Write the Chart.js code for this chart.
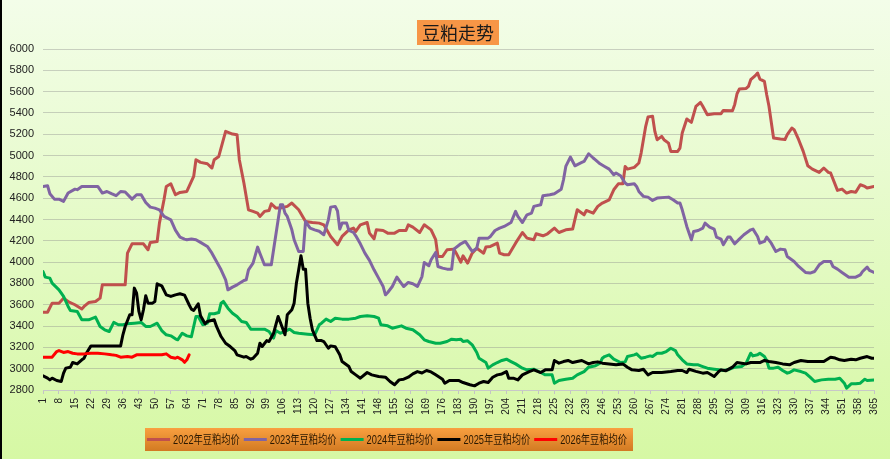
<!DOCTYPE html>
<html lang="zh">
<head>
  <meta charset="UTF-8">
  <title>豆粕走势</title>
  <style>
    html, body { margin: 0; padding: 0; background: #e6fbc8; }
    #chart { display: block; }
  </style>
</head>
<body>
  <canvas id="chart" width="890" height="459"></canvas>
  <script src="https://cdn.jsdelivr.net/npm/chart.js"></script>
  <script>
    // [day, price] pairs
    const y2022 = [[1,3530],[3,3530],[5,3615],[8,3615],[10,3662],[12,3630],[15,3600],[18,3560],[19,3584],[21,3621],[24,3630],[26,3662],[27,3787],[37,3787],[38,4084],[40,4172],[45,4172],[47,4116],[48,4185],[51,4194],[52,4366],[54,4585],[55,4710],[57,4735],[59,4632],[61,4654],[64,4663],[67,4804],[68,4961],[70,4936],[73,4923],[75,4883],[76,4961],[78,4992],[80,5149],[81,5227],[84,5202],[86,5196],[87,4961],[89,4742],[91,4491],[93,4476],[95,4460],[96,4429],[98,4476],[100,4485],[101,4548],[103,4507],[105,4507],[108,4523],[110,4554],[113,4491],[116,4382],[119,4372],[122,4366],[124,4350],[127,4241],[130,4163],[132,4241],[135,4303],[137,4319],[138,4288],[140,4350],[143,4372],[144,4272],[146,4219],[147,4303],[150,4297],[152,4272],[155,4272],[157,4297],[160,4297],[161,4350],[163,4328],[166,4278],[168,4350],[171,4303],[173,4210],[174,4053],[176,4053],[178,4116],[181,4122],[182,4084],[184,4000],[185,4059],[187,3991],[189,4084],[191,4131],[194,4084],[195,4141],[197,4147],[200,4178],[201,4084],[203,4069],[205,4069],[208,4178],[211,4278],[213,4225],[216,4210],[217,4266],[220,4247],[222,4266],[225,4319],[227,4278],[230,4303],[233,4310],[235,4491],[238,4444],[239,4485],[242,4460],[244,4523],[246,4554],[249,4585],[251,4679],[253,4735],[255,4735],[256,4898],[257,4873],[260,4889],[262,4930],[263,5023],[265,5274],[266,5361],[268,5368],[269,5227],[270,5149],[272,5180],[273,5149],[275,5117],[276,5039],[279,5039],[280,5070],[281,5211],[283,5343],[285,5311],[287,5462],[289,5499],[290,5462],[292,5383],[295,5393],[298,5393],[299,5424],[303,5420],[304,5480],[305,5580],[306,5624],[309,5630],[310,5649],[311,5712],[313,5750],[314,5775],[315,5718],[317,5696],[318,5571],[319,5462],[321,5164],[324,5155],[326,5150],[327,5196],[329,5258],[330,5243],[332,5149],[334,5039],[336,4904],[338,4873],[341,4842],[343,4883],[345,4842],[346,4836],[349,4673],[351,4685],[353,4648],[355,4663],[357,4655],[359,4726],[361,4710],[362,4695],[365,4710]];
    const y2023 = [[1,4710],[3,4717],[4,4642],[6,4591],[8,4591],[10,4570],[12,4648],[15,4685],[16,4680],[18,4710],[25,4710],[27,4648],[29,4663],[31,4642],[33,4623],[35,4663],[37,4658],[40,4591],[42,4632],[44,4632],[46,4560],[48,4516],[50,4507],[52,4491],[54,4429],[57,4397],[59,4300],[61,4235],[63,4216],[64,4210],[66,4216],[68,4210],[70,4185],[73,4147],[75,4084],[77,4006],[79,3928],[81,3834],[82,3740],[84,3765],[86,3787],[89,3828],[90,3834],[91,3928],[93,3991],[95,4141],[96,4084],[98,3975],[101,3975],[102,4116],[104,4397],[105,4538],[106,4538],[107,4460],[108,4429],[110,4303],[111,4210],[113,4100],[115,4100],[116,4382],[118,4319],[120,4303],[122,4290],[124,4257],[126,4397],[127,4516],[129,4523],[130,4480],[131,4310],[132,4366],[134,4366],[135,4297],[137,4278],[138,4247],[140,4172],[142,4084],[144,4016],[146,3928],[148,3850],[150,3771],[151,3693],[152,3715],[154,3771],[156,3859],[157,3828],[159,3771],[161,3809],[163,3797],[165,3771],[167,3865],[168,3997],[170,3966],[171,4022],[173,4091],[174,3959],[176,3944],[178,3934],[180,3934],[181,4122],[184,4172],[186,4194],[188,4131],[189,4100],[191,4131],[192,4225],[196,4225],[197,4241],[199,4297],[201,4319],[203,4335],[206,4372],[208,4476],[209,4429],[211,4372],[213,4444],[215,4460],[216,4523],[219,4538],[220,4623],[223,4632],[225,4642],[228,4685],[229,4773],[230,4898],[232,4986],[234,4904],[237,4936],[238,4945],[240,5017],[242,4977],[243,4960],[245,4923],[247,4898],[249,4873],[251,4820],[252,4836],[254,4811],[256,4742],[257,4726],[260,4735],[261,4710],[262,4663],[264,4617],[266,4610],[268,4579],[270,4601],[275,4610],[277,4585],[279,4554],[280,4554],[281,4491],[283,4335],[285,4210],[286,4288],[288,4297],[290,4319],[291,4366],[293,4328],[295,4310],[296,4235],[298,4216],[299,4163],[301,4235],[302,4235],[304,4172],[306,4216],[308,4257],[311,4303],[312,4310],[314,4241],[315,4178],[317,4194],[318,4235],[320,4178],[322,4100],[324,4122],[326,4116],[327,4053],[330,4006],[332,3959],[335,3903],[337,3897],[339,3912],[341,3975],[343,4006],[346,4006],[347,3959],[349,3934],[351,3903],[354,3859],[357,3859],[359,3881],[360,3912],[362,3953],[363,3922],[365,3903]];
    const y2024 = [[1,3912],[2,3859],[4,3850],[5,3803],[8,3740],[10,3678],[12,3584],[13,3546],[16,3537],[18,3459],[21,3459],[24,3484],[26,3396],[28,3365],[30,3349],[32,3434],[34,3412],[36,3412],[38,3421],[41,3427],[44,3434],[46,3396],[48,3396],[51,3427],[53,3358],[55,3318],[57,3308],[59,3280],[60,3271],[62,3333],[64,3308],[66,3300],[68,3490],[69,3490],[71,3412],[73,3427],[74,3515],[76,3515],[78,3527],[79,3615],[80,3631],[82,3568],[84,3521],[86,3490],[88,3443],[90,3434],[92,3371],[98,3371],[100,3349],[102,3287],[103,3358],[105,3333],[107,3349],[109,3371],[111,3340],[113,3333],[117,3324],[120,3318],[122,3412],[123,3427],[125,3465],[127,3443],[129,3474],[132,3465],[135,3465],[138,3474],[140,3490],[143,3496],[146,3490],[148,3474],[149,3412],[152,3402],[154,3380],[158,3402],[160,3380],[163,3365],[166,3318],[168,3271],[170,3255],[173,3239],[175,3239],[178,3255],[180,3277],[182,3271],[184,3277],[185,3255],[187,3262],[189,3224],[191,3152],[192,3098],[195,3058],[196,3005],[198,3036],[200,3058],[202,3077],[204,3089],[206,3067],[208,3045],[211,3005],[213,2989],[216,2995],[219,2964],[221,2942],[224,2942],[225,2864],[227,2889],[230,2901],[233,2911],[235,2942],[238,2973],[240,3014],[243,3027],[245,3052],[246,3098],[247,3114],[249,3130],[251,3089],[254,3058],[256,3064],[257,3114],[260,3130],[261,3139],[263,3098],[265,3108],[267,3120],[268,3114],[270,3145],[272,3145],[274,3161],[276,3192],[278,3170],[279,3130],[281,3083],[283,3045],[286,3036],[288,3036],[290,3020],[292,3005],[295,2995],[297,2989],[299,2983],[301,2990],[304,3014],[307,3020],[309,3052],[311,3145],[312,3120],[314,3130],[315,3145],[317,3114],[318,3077],[319,3005],[321,3005],[323,3014],[325,2983],[327,2958],[328,2964],[330,2989],[333,2973],[335,2958],[337,2920],[339,2880],[342,2895],[345,2901],[348,2901],[350,2911],[352,2864],[353,2817],[355,2858],[357,2858],[359,2864],[361,2901],[362,2889],[365,2895]];
    const y2025 = [[1,2933],[3,2911],[4,2895],[5,2911],[7,2889],[9,2880],[10,2958],[11,3005],[13,3014],[14,3058],[16,3045],[18,3083],[19,3098],[20,3145],[22,3214],[35,3214],[36,3318],[37,3396],[39,3506],[40,3506],[41,3756],[42,3709],[43,3537],[44,3459],[45,3553],[46,3684],[47,3615],[49,3615],[50,3631],[51,3797],[53,3778],[55,3693],[57,3678],[59,3693],[61,3703],[63,3690],[65,3600],[66,3559],[67,3546],[69,3609],[70,3496],[72,3421],[73,3443],[76,3459],[77,3396],[79,3302],[81,3239],[83,3208],[85,3170],[86,3130],[89,3108],[90,3114],[92,3089],[93,3098],[95,3145],[96,3239],[97,3208],[99,3264],[100,3255],[102,3333],[104,3490],[105,3434],[107,3318],[108,3506],[110,3553],[111,3615],[112,3803],[113,3928],[114,4059],[115,3934],[116,3934],[117,3615],[118,3474],[119,3365],[121,3264],[123,3264],[124,3255],[126,3192],[127,3214],[129,3205],[131,3130],[132,3067],[135,3020],[136,2973],[138,2942],[140,2911],[143,2964],[145,2942],[148,2926],[151,2920],[153,2880],[155,2849],[157,2895],[159,2901],[161,2920],[163,2951],[165,2973],[167,2960],[169,2983],[171,2970],[173,2942],[176,2901],[177,2864],[179,2890],[181,2889],[183,2890],[185,2870],[188,2849],[190,2839],[192,2864],[194,2880],[196,2870],[198,2920],[200,2942],[202,2951],[204,2973],[205,2911],[207,2911],[209,2895],[211,2942],[214,2973],[216,2989],[219,2964],[221,2989],[224,2989],[225,3077],[227,3052],[229,3067],[231,3077],[233,3058],[237,3077],[240,3045],[242,3058],[244,3064],[246,3052],[249,3045],[252,3036],[255,3045],[257,3014],[259,2989],[262,2983],[264,2995],[266,2942],[268,2964],[272,2964],[276,2973],[279,2983],[281,2983],[283,2964],[284,2995],[287,2975],[290,2958],[292,2964],[295,2926],[297,2973],[298,2989],[300,2980],[303,3014],[305,3058],[307,3052],[309,3045],[311,3058],[315,3058],[317,3077],[319,3067],[322,3058],[325,3045],[328,3036],[330,3058],[333,3077],[336,3067],[339,3067],[343,3067],[346,3108],[348,3100],[350,3083],[352,3077],[355,3089],[357,3083],[359,3098],[362,3114],[364,3098],[365,3098]];
    const y2026 = [[1,3108],[5,3108],[7,3161],[8,3170],[10,3152],[12,3161],[14,3145],[16,3139],[19,3139],[22,3145],[25,3145],[28,3139],[31,3130],[33,3125],[35,3108],[38,3114],[40,3108],[42,3130],[46,3130],[49,3130],[53,3130],[55,3139],[57,3108],[59,3098],[60,3108],[62,3083],[63,3060],[64,3083],[65,3130]];

    const seriesNames = ['2022年豆粕均价', '2023年豆粕均价', '2024年豆粕均价', '2025年豆粕均价', '2026年豆粕均价'];
    const seriesColors = ['#c0504d', '#8064a2', '#00b050', '#000000', '#ff0000'];
    const allSeries = [y2022, y2023, y2024, y2025, y2026];

    const dayFirst = 1, dayLast = 365, dayStep = 7;
    const priceMin = 2800, priceMax = 6000, priceStep = 200;

    const titleText = '豆粕走势';
    const FONT = '"Liberation Sans", "Noto Sans CJK SC", sans-serif';

    Chart.defaults.font.family = FONT;

    const decor = {
      id: 'decor',
      beforeDraw(chart) {
        const { ctx, width, height } = chart;
        const g = ctx.createLinearGradient(0, 0, 0, height);
        g.addColorStop(0, '#f3fde9');
        g.addColorStop(1, '#d6f8a4');
        ctx.save();
        ctx.fillStyle = g;
        ctx.fillRect(0, 0, width, height);
        ctx.fillStyle = '#000';
        ctx.fillRect(0, 0, 2, height);
        ctx.restore();
      },
      afterDraw(chart) {
        const ctx = chart.ctx;
        ctx.save();

        // title box
        ctx.font = '18px "Noto Sans CJK SC", sans-serif';
        const tw = ctx.measureText(titleText).width;
        const cx = 458, cy = 32.5;
        ctx.fillStyle = '#f79646';
        ctx.fillRect(cx - tw / 2 - 5, 20, tw + 10, 25);
        ctx.fillStyle = '#1a1a1a';
        ctx.textAlign = 'center';
        ctx.textBaseline = 'middle';
        ctx.fillText(titleText, cx, cy + 1);

        // legend box; text squeezed a bit, like the narrow office font
        const lineLen = 23, gap = 3, itemGap = 4, boxW = 488;
        ctx.font = '12px ' + FONT;
        const widths = seriesNames.map(n => ctx.measureText(n).width);
        const free = boxW - 4 - seriesNames.length * (lineLen + gap + itemGap);
        const sx = Math.min(1, free / widths.reduce((s, w) => s + w, 0));
        const lx = 145, ly = 428, lh = 23;
        const lg = ctx.createLinearGradient(0, ly, 0, ly + lh);
        lg.addColorStop(0, '#f9a040');
        lg.addColorStop(1, '#d27a22');
        ctx.fillStyle = lg;
        ctx.fillRect(lx, ly, boxW, lh);
        let x = lx + 2;
        const my = ly + lh / 2;
        ctx.textAlign = 'left';
        ctx.textBaseline = 'middle';
        chart.data.datasets.forEach((ds, i) => {
          ctx.strokeStyle = ds.borderColor;
          ctx.lineWidth = 3;
          ctx.beginPath();
          ctx.moveTo(x, my);
          ctx.lineTo(x + lineLen, my);
          ctx.stroke();
          x += lineLen + gap;
          ctx.save();
          ctx.translate(x, my + 1);
          ctx.scale(sx, 1);
          ctx.fillStyle = '#2a1800';
          ctx.fillText(ds.label, 0, 0);
          ctx.restore();
          x += widths[i] * sx + itemGap;
        });
        ctx.restore();
      }
    };

    const chart = new Chart(document.getElementById('chart'), {
      type: 'line',
      data: {
        datasets: allSeries.map((pts, i) => ({
          label: seriesNames[i],
          data: pts.map(([d, v]) => ({ x: d, y: v })),
          borderColor: seriesColors[i],
          backgroundColor: seriesColors[i],
          borderWidth: 3,
          pointRadius: 0,
          tension: 0,
          borderJoinStyle: 'round',
          borderCapStyle: 'round',
          fill: false,
          order: allSeries.length - i
        }))
      },
      options: {
        responsive: false,
        animation: false,
        layout: { padding: { top: 49, right: 15, bottom: 44, left: 0 } },
        plugins: {
          legend: { display: false },
          title: { display: false },
          tooltip: { enabled: false }
        },
        scales: {
          x: {
            type: 'linear',
            min: dayFirst,
            max: dayLast,
            afterFit: s => { s.height = 25; },
            ticks: {
              stepSize: dayStep,
              autoSkip: false,
              maxRotation: 90,
              minRotation: 90,
              padding: 4,
              color: '#222',
              font: { size: 10 },
              callback: v => String(v)
            },
            grid: { drawOnChartArea: false, tickLength: 4, color: '#c4c4c4' },
            border: { display: true, color: '#c8c8c8' }
          },
          y: {
            min: priceMin,
            max: priceMax,
            afterFit: s => { s.width = 43; },
            ticks: {
              stepSize: priceStep,
              padding: 9,
              color: '#222',
              font: { size: 11 },
              callback: v => String(v)
            },
            grid: { color: 'rgba(140,140,140,0.4)', drawTicks: false },
            border: { display: false }
          }
        }
      },
      plugins: [decor]
    });
  </script>
</body>
</html>
